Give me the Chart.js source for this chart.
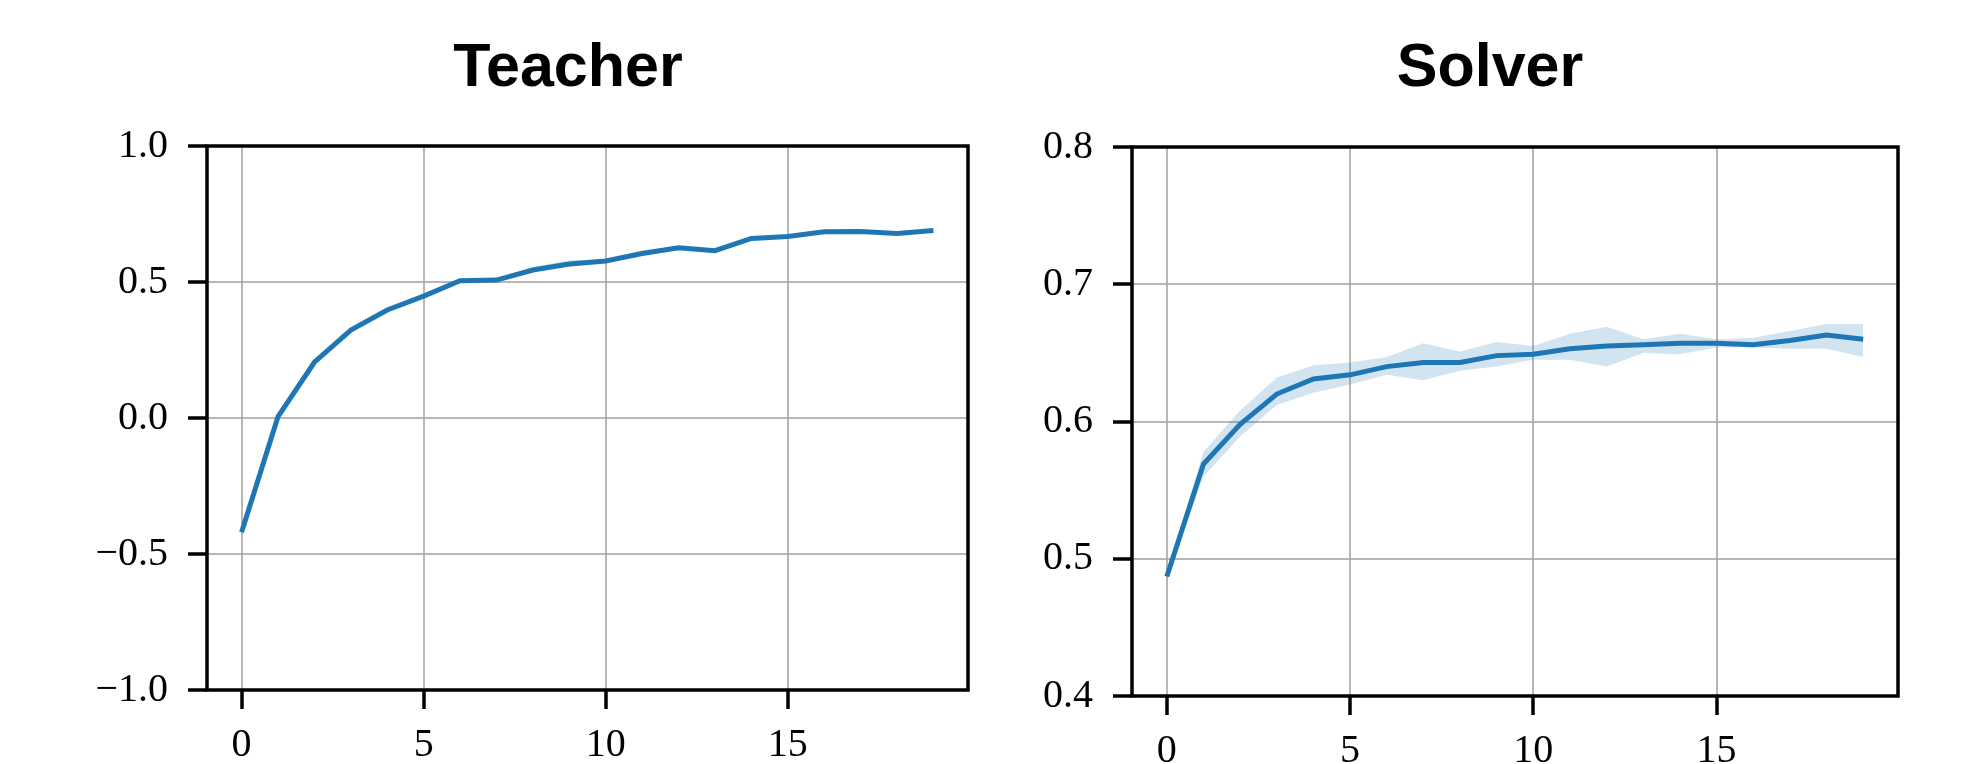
<!DOCTYPE html>
<html>
<head>
<meta charset="utf-8">
<script src="https://cdn.jsdelivr.net/npm/chart.js@4.4.1/dist/chart.umd.min.js"></script>
<style>
  html, body { margin: 0; padding: 0; background: #fff; }
  body { width: 1963px; height: 764px; position: relative; overflow: hidden; }
  canvas { position: absolute; top: 0; }
  #teacherChart { left: 0; }
  #solverChart { left: 1000px; }
</style>
</head>
<body>
<canvas id="teacherChart" width="1000" height="764"></canvas>
<canvas id="solverChart" width="963" height="764"></canvas>
<script>
// x axis: training iterations
const epochs = [0, 1, 2, 3, 4, 5, 6, 7, 8, 9, 10, 11, 12, 13, 14, 15, 16, 17, 18, 19];
const xTicks = [0, 5, 10, 15];

// Teacher panel
const teacherMean  = [-0.42, 0.005, 0.205, 0.323, 0.397, 0.448, 0.505, 0.507, 0.544, 0.566, 0.577, 0.605, 0.626, 0.615, 0.660, 0.667, 0.685, 0.686, 0.678, 0.689];
const teacherUpper = [-0.415, 0.01, 0.212, 0.330, 0.403, 0.454, 0.510, 0.512, 0.556, 0.580, 0.583, 0.617, 0.632, 0.620, 0.665, 0.672, 0.690, 0.691, 0.683, 0.694];
const teacherLower = [-0.425, 0.0, 0.198, 0.316, 0.391, 0.442, 0.500, 0.502, 0.536, 0.556, 0.571, 0.596, 0.620, 0.610, 0.655, 0.662, 0.680, 0.681, 0.673, 0.684];
const teacherTicks = [-1.0, -0.5, 0.0, 0.5, 1.0];

// Solver panel
const solverMean  = [0.487, 0.569, 0.598, 0.620, 0.631, 0.634, 0.640, 0.643, 0.643, 0.648, 0.649, 0.653, 0.655, 0.656, 0.657, 0.657, 0.656, 0.659, 0.663, 0.660];
const solverUpper = [0.489, 0.578, 0.608, 0.632, 0.641, 0.643, 0.647, 0.657, 0.651, 0.658, 0.655, 0.664, 0.669, 0.660, 0.664, 0.660, 0.661, 0.666, 0.671, 0.671];
const solverLower = [0.485, 0.560, 0.589, 0.612, 0.621, 0.627, 0.634, 0.630, 0.637, 0.640, 0.645, 0.645, 0.640, 0.650, 0.649, 0.654, 0.654, 0.653, 0.653, 0.647];
const solverTicks = [0.4, 0.5, 0.6, 0.7, 0.8];

const BLUE = '#1f77b4';
const BAND = 'rgba(31, 119, 180, 0.2)';
const GRID = 'rgba(165, 165, 165, 0.8)';

const toPoints = (ys) => epochs.map((x, i) => ({ x: x, y: ys[i] }));
const fmt = (v) => (v < 0 ? '\u2212' : '') + Math.abs(v).toFixed(1);

// draws the panel title and the box around the plot area (matplotlib spines)
const framePlugin = {
  id: 'frame',
  afterDraw(chart, args, opts) {
    const { ctx, chartArea } = chart;
    ctx.save();
    ctx.strokeStyle = '#000';
    ctx.lineWidth = 3.5;
    ctx.strokeRect(chartArea.left, chartArea.top, chartArea.right - chartArea.left, chartArea.bottom - chartArea.top);
    ctx.fillStyle = '#000';
    ctx.font = 'bold 61px "Liberation Sans", Arial, sans-serif';
    ctx.textAlign = 'center';
    ctx.textBaseline = 'alphabetic';
    ctx.fillText(opts.text, opts.x, 86);
    ctx.restore();
  }
};

function makeChart(id, cfg) {
  const ctx = document.getElementById(id).getContext('2d');
  return new Chart(ctx, {
    type: 'line',
    data: {
      datasets: [
        { data: toPoints(cfg.lower), borderWidth: 0, pointRadius: 0, fill: false },
        { data: toPoints(cfg.upper), borderWidth: 0, pointRadius: 0, fill: '-1', backgroundColor: BAND },
        { data: toPoints(cfg.mean), borderColor: BLUE, borderWidth: 5, pointRadius: 0, fill: false, tension: 0 },
      ],
    },
    options: {
      responsive: false,
      animation: false,
      devicePixelRatio: 1,
      layout: { padding: { top: cfg.top, right: cfg.right, left: 0, bottom: 0 } },
      plugins: {
        legend: { display: false },
        tooltip: { enabled: false },
        frame: { text: cfg.title, x: cfg.titleX },
      },
      scales: {
        x: {
          type: 'linear',
          min: -0.95,
          max: 19.95,
          afterBuildTicks: (scale) => { scale.ticks = xTicks.map(v => ({ value: v })); },
          afterFit: (scale) => { scale.height = cfg.xHeight; },
          border: { display: false },
          grid: { color: GRID, lineWidth: 2, tickColor: '#000', tickWidth: 3.5, tickLength: 19 },
          ticks: { color: '#000', padding: 12, maxRotation: 0, font: { family: '"Liberation Serif", "Times New Roman", serif', size: 40 } },
        },
        y: {
          min: cfg.ticks[0],
          max: cfg.ticks[cfg.ticks.length - 1],
          afterBuildTicks: (scale) => { scale.ticks = cfg.ticks.map(v => ({ value: v })); },
          afterFit: (scale) => { scale.width = cfg.yWidth; },
          border: { display: false },
          grid: { color: GRID, lineWidth: 2, tickColor: '#000', tickWidth: 3.5, tickLength: 19 },
          ticks: { color: '#000', padding: 20, callback: (v) => fmt(v), font: { family: '"Liberation Serif", "Times New Roman", serif', size: 40 } },
        },
      },
    },
    plugins: [framePlugin],
  });
}

makeChart('teacherChart', {
  title: 'Teacher', titleX: 568,
  mean: teacherMean, upper: teacherUpper, lower: teacherLower, ticks: teacherTicks,
  top: 146, right: 32, yWidth: 207, xHeight: 74,
});

makeChart('solverChart', {
  title: 'Solver', titleX: 490,
  mean: solverMean, upper: solverUpper, lower: solverLower, ticks: solverTicks,
  top: 147, right: 65, yWidth: 132, xHeight: 68,
});
</script>
</body>
</html>
